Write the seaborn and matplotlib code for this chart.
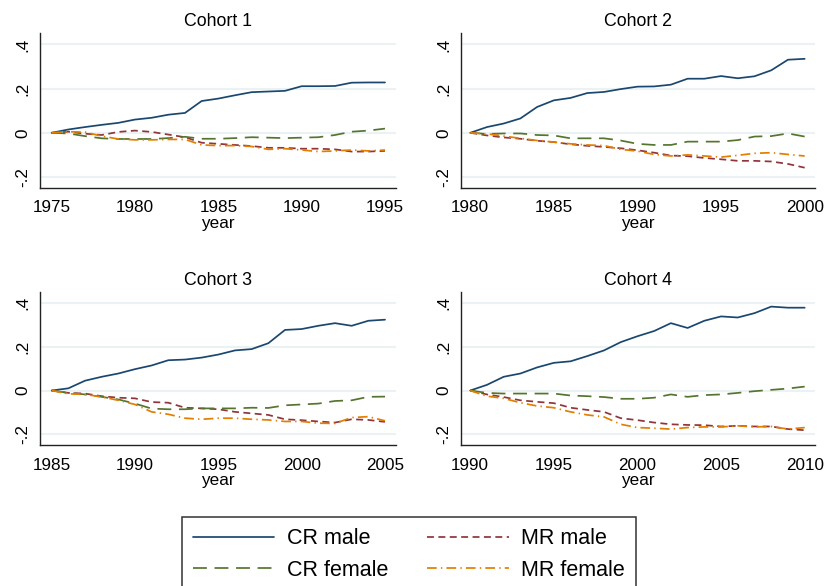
import matplotlib
matplotlib.use("Agg")
import matplotlib.pyplot as plt
from matplotlib.lines import Line2D
import numpy as np
import pandas as pd
import seaborn as sns

sns.set_theme(style="white")
plt.rcParams["font.family"] = ["Liberation Sans", "DejaVu Sans"]
plt.rcParams["lines.scale_dashes"] = False

# ---- data -------------------------------------------------------------
start_years = [1975, 1980, 1985, 1990]
titles = ["Cohort 1", "Cohort 2", "Cohort 3", "Cohort 4"]
series_names = ["CR male", "MR male", "CR female", "MR female"]

cr_male_1 = [0, 0.015, 0.026, 0.036, 0.045, 0.06, 0.068, 0.082, 0.09, 0.144, 0.155,
             0.17, 0.184, 0.187, 0.19, 0.211, 0.211, 0.212, 0.227, 0.228, 0.228]
mr_male_1 = [0, 0.005, -0.004, -0.01, 0.004, 0.01, 0.004, -0.008, -0.02, -0.045, -0.05,
             -0.055, -0.06, -0.068, -0.068, -0.072, -0.072, -0.075, -0.085, -0.085, -0.082]
cr_female_1 = [0, -0.003, -0.015, -0.025, -0.028, -0.028, -0.028, -0.024, -0.018, -0.027, -0.027,
               -0.024, -0.02, -0.022, -0.024, -0.022, -0.02, -0.01, 0.005, 0.01, 0.019]
mr_female_1 = [0, 0.005, 0.003, -0.015, -0.028, -0.032, -0.032, -0.03, -0.03, -0.055, -0.058,
               -0.058, -0.062, -0.075, -0.072, -0.078, -0.085, -0.082, -0.078, -0.082, -0.078]

cr_male_2 = [0, 0.026, 0.042, 0.065, 0.117, 0.147, 0.158, 0.18, 0.185, 0.198, 0.209,
             0.21, 0.218, 0.245, 0.245, 0.257, 0.247, 0.256, 0.283, 0.331, 0.335]
mr_male_2 = [0, -0.012, -0.021, -0.027, -0.036, -0.042, -0.052, -0.059, -0.064, -0.07, -0.079,
             -0.09, -0.103, -0.106, -0.114, -0.12, -0.127, -0.127, -0.13, -0.141, -0.158]
cr_female_2 = [0, -0.005, -0.003, -0.003, -0.01, -0.012, -0.025, -0.025, -0.025, -0.035, -0.05,
               -0.055, -0.055, -0.04, -0.04, -0.04, -0.033, -0.017, -0.015, -0.003, -0.017]
mr_female_2 = [0, -0.005, -0.015, -0.025, -0.035, -0.042, -0.05, -0.055, -0.058, -0.075, -0.083,
               -0.098, -0.105, -0.1, -0.105, -0.11, -0.102, -0.093, -0.09, -0.098, -0.105]

cr_male_3 = [0, 0.01, 0.045, 0.063, 0.078, 0.098, 0.115, 0.139, 0.142, 0.151, 0.165,
             0.184, 0.19, 0.217, 0.278, 0.282, 0.297, 0.309, 0.297, 0.32, 0.325]
mr_male_3 = [0, -0.011, -0.014, -0.026, -0.033, -0.036, -0.053, -0.056, -0.079, -0.082, -0.086,
             -0.098, -0.105, -0.112, -0.132, -0.136, -0.142, -0.147, -0.132, -0.135, -0.144]
cr_female_3 = [0, -0.011, -0.018, -0.029, -0.041, -0.06, -0.083, -0.086, -0.086, -0.082, -0.082,
               -0.082, -0.079, -0.08, -0.068, -0.064, -0.06, -0.048, -0.045, -0.029, -0.028]
mr_female_3 = [0, -0.015, -0.018, -0.029, -0.045, -0.064, -0.098, -0.109, -0.127, -0.132, -0.127,
               -0.127, -0.132, -0.135, -0.142, -0.142, -0.15, -0.151, -0.124, -0.12, -0.139]

cr_male_4 = [0, 0.026, 0.063, 0.078, 0.106, 0.127, 0.134, 0.158, 0.184, 0.222, 0.249,
             0.273, 0.309, 0.287, 0.32, 0.34, 0.335, 0.355, 0.385, 0.38, 0.38]
mr_male_4 = [0, -0.018, -0.03, -0.045, -0.052, -0.058, -0.079, -0.089, -0.098, -0.127, -0.136,
             -0.147, -0.155, -0.158, -0.159, -0.165, -0.162, -0.165, -0.165, -0.177, -0.182]
cr_female_4 = [0, -0.011, -0.014, -0.014, -0.014, -0.014, -0.023, -0.026, -0.03, -0.038, -0.038,
               -0.033, -0.018, -0.029, -0.021, -0.018, -0.011, -0.003, 0.003, 0.009, 0.018]
mr_female_4 = [0, -0.026, -0.036, -0.056, -0.071, -0.079, -0.098, -0.112, -0.121, -0.155, -0.17,
               -0.173, -0.177, -0.17, -0.167, -0.167, -0.162, -0.167, -0.165, -0.177, -0.17]

cohort_values = [
    [cr_male_1, mr_male_1, cr_female_1, mr_female_1],
    [cr_male_2, mr_male_2, cr_female_2, mr_female_2],
    [cr_male_3, mr_male_3, cr_female_3, mr_female_3],
    [cr_male_4, mr_male_4, cr_female_4, mr_female_4],
]

# ---- styling ----------------------------------------------------------
palette = {"CR male": "#1a476f", "MR male": "#90353b",
           "CR female": "#55752f", "MR female": "#e37e00"}
dash_styles = {"CR male": "", "MR male": (5.0, 3.2),
               "CR female": (10.0, 5.5), "MR female": (7.0, 3.0, 1.0, 3.0)}
LW = 1.25

W, H = 826, 586
fig = plt.figure(figsize=(W / 100, H / 100), dpi=100)
fig.patch.set_facecolor("white")

col_left = [40, 460.7]
col_width = [356, 354]
col_margin = [(0.70, 0.66), (0.57, 0.60)]
row_top = [33, 292]
row_height = [155, 153]

FS = 12.3
for i in range(4):
    r, c = divmod(i, 2)
    ax = fig.add_axes([col_left[c] / W, 1 - (row_top[r] + row_height[r]) / H,
                       col_width[c] / W, row_height[r] / H])
    y0 = start_years[i]
    years = np.arange(y0, y0 + 21)
    frames = []
    for name, vals in zip(series_names, cohort_values[i]):
        frames.append(pd.DataFrame({"year": years, "value": vals, "series": name}))
    df = pd.concat(frames, ignore_index=True)

    for y in [-0.2, 0, 0.2, 0.4]:
        ax.axhline(y, color="#eaf2f3", lw=1.5, zorder=0)

    sns.lineplot(data=df, x="year", y="value", hue="series", style="series",
                 hue_order=series_names, style_order=series_names,
                 palette=palette, dashes=dash_styles, linewidth=LW,
                 legend=False, ax=ax, zorder=3)

    ax.set_xlim(y0 - col_margin[c][0], y0 + 20 + col_margin[c][1])
    ax.set_ylim(-0.25, 0.452)
    ax.set_xticks(np.arange(y0, y0 + 21, 5))
    ax.set_xticklabels([str(v) for v in range(y0, y0 + 21, 5)], fontsize=FS)
    ax.set_yticks([-0.2, 0, 0.2, 0.4])
    ax.set_yticklabels(["-.2", "0", ".2", ".4"], fontsize=FS, rotation=90, va="center")
    ax.set_xlabel("year", fontsize=FS, labelpad=0.3, color="black")
    ax.set_ylabel("")
    ax.set_title(titles[i], fontsize=12.8, pad=5, color="black")
    ax.grid(False)
    for s in ["top", "right"]:
        ax.spines[s].set_visible(False)
    for s in ["left", "bottom"]:
        ax.spines[s].set_color("#222222")
        ax.spines[s].set_linewidth(1.0)
    ax.tick_params(axis="both", which="major", direction="out",
                   width=1.0, color="#222222", labelcolor="black")
    ax.tick_params(axis="x", length=3.8, pad=5.2)
    ax.tick_params(axis="y", length=4.8, pad=2)
    ax.set_facecolor("white")

# legend handles built with the same styles as the plotted series
handles = {}
for name in series_names:
    d = dash_styles[name]
    ls = "-" if d == "" else (0, d)
    handles[name] = Line2D([], [], color=palette[name], lw=LW, linestyle=ls)

order = ["CR male", "CR female", "MR male", "MR female"]
leg = fig.legend([handles[n] for n in order], order, ncol=2,
                 loc="upper left", bbox_to_anchor=(182 / W, 1 - 517 / H),
                 bbox_transform=fig.transFigure, frameon=True, fancybox=False,
                 fontsize=15.5, handlelength=3.77, handletextpad=0.6,
                 columnspacing=1.8, labelspacing=0.5, borderpad=0.52,
                 borderaxespad=0.0)
leg.get_frame().set_edgecolor("black")
leg.get_frame().set_linewidth(1.1)
for t in leg.get_texts():
    t.set_color("black")

fig.savefig("out.png", dpi=100, facecolor="white")
